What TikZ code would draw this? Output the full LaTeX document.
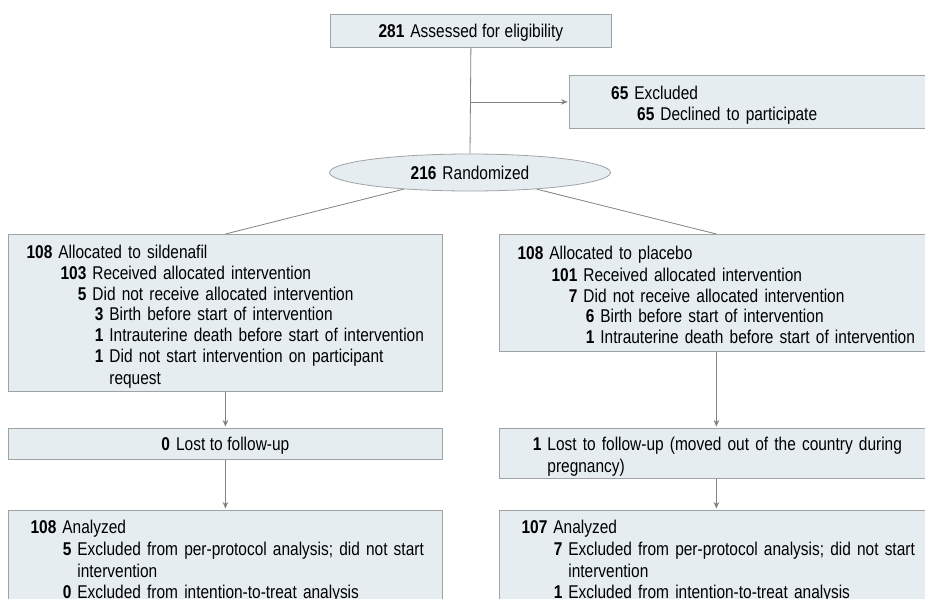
\documentclass[tikz,border=0pt]{standalone}
\usepackage{fontspec}
\setmainfont{Liberation Sans}[FakeStretch=0.836]
\usepackage{tikz}
\usetikzlibrary{arrows.meta,shapes.geometric,positioning}
\definecolor{boxfill}{RGB}{230,237,241}
\definecolor{boxline}{RGB}{160,163,166}
\definecolor{linkgray}{RGB}{130,130,130}
\setlength{\parskip}{0pt}
\setlength{\parindent}{0pt}
% box text: size, line spacing and word space
\newcommand{\boxfont}{\fontsize{18.5}{20.8}\selectfont
  \setlength{\spaceskip}{4.6pt plus 1pt minus 1pt}}
% line strut, centred on the x-height
\newcommand{\lstrut}{\rule[-3.7pt]{0pt}{20.8pt}}
% one line: right edge of the number, number, text
\newcommand{\ent}[3]{\par\hbox{\makebox[#1pt][r]{\textbf{#2}}\hspace{6pt}#3\lstrut}}
\tikzset{
  flowbox/.style={draw=boxline, fill=boxfill, line width=0.8pt, inner sep=0pt,
    font=\boxfont},
  listbox/.style={flowbox, anchor=north west, text width=434pt},
  link/.style={draw=linkgray, line width=0.8pt},
  arrow/.style={link, -{Stealth[length=6.5pt,width=5.5pt]}, shorten >=1.5pt},
}

\begin{document}
\begin{tikzpicture}[x=1pt, y=-1pt]
    \clip (0, 0) rectangle (925, 598);
    \fill[white] (0, 0) rectangle (925, 598);
    % Enrollment
    \node[flowbox, anchor=north west, minimum width=281pt, minimum height=33pt]
        (assess) at (330, 14) {\lstrut\textbf{281}\hspace{6pt}Assessed for eligibility};
    \node[listbox, text width=380pt, minimum height=53pt]
        (excl) at (569, 75) {\ent{59}{65}{Excluded}\ent{85}{65}{Declined to participate}};
    \node[flowbox, ellipse, minimum width=281pt, minimum height=37pt]
        (rand) at (470, 172.5) {\lstrut\textbf{216}\hspace{6pt}Randomized};
    \coordinate (split) at (assess.south |- excl.west);
    \draw[link] (assess.south) -- (rand.north);
    \draw[arrow] (split) -- (excl.west);
    % Allocation
    \node[listbox, minimum height=157pt] (silalloc) at (8, 234) {%
        \ent{44}{108}{Allocated to sildenafil}%
        \ent{78}{103}{Received allocated intervention}%
        \ent{78}{5}{Did not receive allocated intervention}%
        \ent{95}{3}{Birth before start of intervention}%
        \ent{95}{1}{Intrauterine death before start of intervention}%
        \ent{95}{1}{Did not start intervention on participant}%
        \ent{95}{}{request}};
    \node[listbox, minimum height=117pt] (plcalloc) at (499, 234) {%
        \ent{44}{108}{Allocated to placebo}%
        \ent{78}{101}{Received allocated intervention}%
        \ent{78}{7}{Did not receive allocated intervention}%
        \ent{95}{6}{Birth before start of intervention}%
        \ent{95}{1}{Intrauterine death before start of intervention}};
    \draw[link] (rand) -- (silalloc.north);
    \draw[link] (rand) -- (plcalloc.north);
    % Follow-up
    \node[flowbox, anchor=north west, minimum width=434pt, minimum height=31pt]
        (sillost) at (8, 428) {\lstrut\textbf{0}\hspace{6pt}Lost to follow-up};
    \node[listbox, minimum height=50pt] (plclost) at (499, 428) {%
        \ent{42}{1}{Lost to follow-up (moved out of the country during}%
        \ent{42}{}{pregnancy)}};
    \draw[arrow] (silalloc.south) -- (sillost.north);
    \draw[arrow] (plcalloc.south) -- (plclost.north);
    % Analysis
    \node[listbox, inner ysep=2.5pt] (silana) at (8, 510) {%
        \ent{48}{108}{Analyzed}%
        \ent{63}{5}{Excluded from per-protocol analysis; did not start}%
        \ent{63}{}{intervention}%
        \ent{63}{0}{Excluded from intention-to-treat analysis}%
        \par\vspace{30pt}};
    \node[listbox, inner ysep=2.5pt] (plcana) at (499, 510) {%
        \ent{48}{107}{Analyzed}%
        \ent{63}{7}{Excluded from per-protocol analysis; did not start}%
        \ent{63}{}{intervention}%
        \ent{63}{1}{Excluded from intention-to-treat analysis}%
        \par\vspace{30pt}};
    \draw[arrow] (sillost.south) -- (silana.north);
    \draw[arrow] (plclost.south) -- (plcana.north);
\end{tikzpicture}
\end{document}
